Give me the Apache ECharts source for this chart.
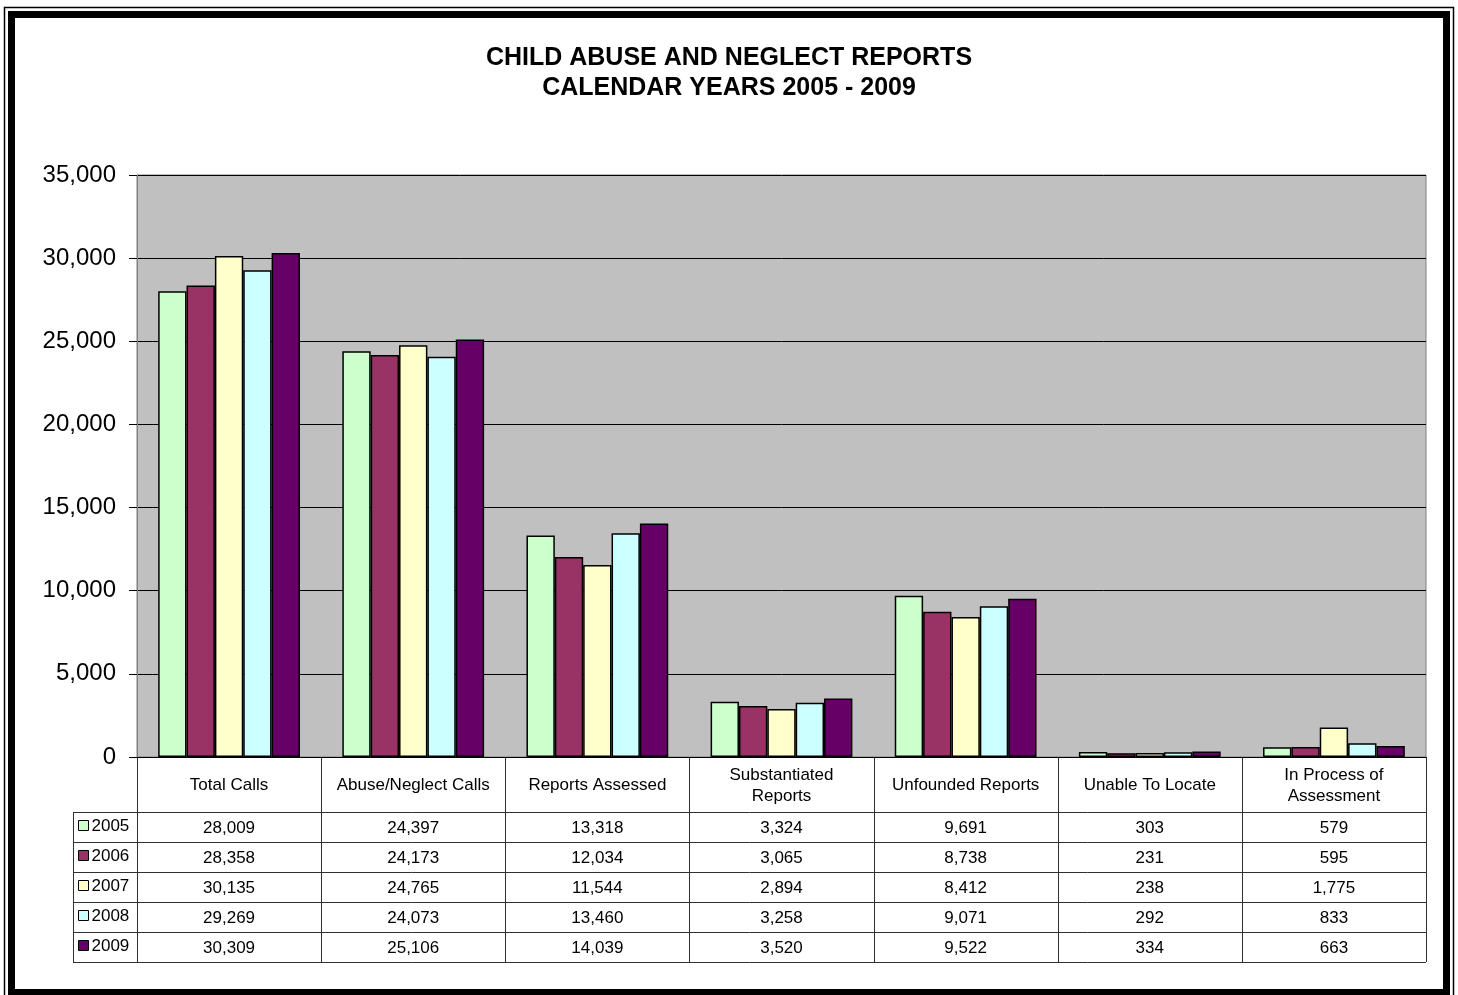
<!DOCTYPE html>
<html>
<head>
<meta charset="utf-8">
<script src="https://cdn.jsdelivr.net/npm/echarts@6/dist/echarts.min.js"></script>
<style>
html,body{margin:0;padding:0;background:#fff;}
#main{width:1458px;height:995px;}
</style>
</head>
<body>
<div id="main"></div>
<script>
var categories = ["Total Calls", "Abuse/Neglect Calls", "Reports Assessed", "Substantiated\nReports", "Unfounded Reports", "Unable To Locate", "In Process of\nAssessment"];
var years = ["2005", "2006", "2007", "2008", "2009"];
var v2005 = [28009, 24397, 13318, 3324, 9691, 303, 579];
var v2006 = [28358, 24173, 12034, 3065, 8738, 231, 595];
var v2007 = [30135, 24765, 11544, 2894, 8412, 238, 1775];
var v2008 = [29269, 24073, 13460, 3258, 9071, 292, 833];
var v2009 = [30309, 25106, 14039, 3520, 9522, 334, 663];
var colors = ["#CCFFCC", "#993366", "#FFFFCC", "#CCFFFF", "#660066"];
var yTicks = [0, 5000, 10000, 15000, 20000, 25000, 30000, 35000];

var seriesValues = [v2005, v2006, v2007, v2008, v2009];
var FONT = "'Liberation Sans', Arial, sans-serif";

var W = 1458, H = 995;
var gLeft = 137, gTop = 175, gRight = 1426, gBottom = 757;
var headerH = 55, rowH = 30, legendLeft = 73;

function fmt(n){ return n.toString().replace(/\B(?=(\d{3})+(?!\d))/g, ","); }

var graphics = [];
// outer frame
graphics.push({type:'rect', shape:{x:4.5,y:7.5,width:1449,height:995}, style:{fill:'none',stroke:'#000',lineWidth:1.5}, silent:true});
graphics.push({type:'rect', shape:{x:11.5,y:14.5,width:1435,height:978}, style:{fill:'none',stroke:'#000',lineWidth:7}, silent:true});

var colW = (gRight - gLeft) / categories.length;
var tableBottom = gBottom + headerH + rowH * years.length;
var lineStyle = {stroke:'#303030', lineWidth:1};
function line(x1,y1,x2,y2){ graphics.push({type:'line', shape:{x1:x1,y1:y1,x2:x2,y2:y2}, style:lineStyle, silent:true}); }

for (var i = 0; i <= categories.length; i++) {
  var x = Math.round(gLeft + i*colW) + 0.5;
  line(x, gBottom, x, tableBottom);
}
line(legendLeft + 0.5, gBottom + headerH, legendLeft + 0.5, tableBottom);
for (var r = 0; r <= years.length; r++) {
  var y = gBottom + headerH + r*rowH + 0.5;
  line(legendLeft, y, gRight, y);
}
for (var c = 0; c < categories.length; c++) {
  graphics.push({type:'text', silent:true, style:{text:categories[c], x:gLeft + (c+0.5)*colW, y:gBottom + headerH/2 + 1, align:'center', verticalAlign:'middle', fontSize:17, lineHeight:21, fontFamily:FONT, fill:'#000'}});
}
for (var r = 0; r < years.length; r++) {
  var cy = gBottom + headerH + r*rowH + rowH/2;
  graphics.push({type:'rect', silent:true, shape:{x:78.5,y:cy-6.5,width:10,height:10}, style:{fill:colors[r], stroke:'#000', lineWidth:1}});
  graphics.push({type:'text', silent:true, style:{text:years[r], x:91.5, y:cy-1, align:'left', verticalAlign:'middle', fontSize:17, fontFamily:FONT, fill:'#000'}});
  for (var c = 0; c < categories.length; c++) {
    graphics.push({type:'text', silent:true, style:{text:fmt(seriesValues[r][c]), x:gLeft + (c+0.5)*colW, y:cy+1, align:'center', verticalAlign:'middle', fontSize:17, fontFamily:FONT, fill:'#000'}});
  }
}

var series = years.map(function(yr, i){
  return {
    name: yr, type:'bar', data: seriesValues[i],
    barGap: '0%', barCategoryGap: '23%',
    itemStyle: {color: colors[i], borderColor:'#000', borderWidth:1.5},
    silent: true
  };
});

var chart = echarts.init(document.getElementById('main'), null, {renderer:'canvas'});
chart.setOption({
  animation: false,
  backgroundColor: '#fff',
  title: {
    text: 'CHILD ABUSE AND NEGLECT REPORTS\nCALENDAR YEARS 2005 - 2009',
    left: 'center', top: 38,
    textStyle: {fontFamily: FONT, fontSize: 25, fontWeight: 'bold', color:'#000', lineHeight: 30}
  },
  grid: {left: gLeft, top: gTop, right: W - gRight, bottom: H - gBottom, show: true, backgroundColor:'#C0C0C0', borderColor:'#808080', borderWidth:1},
  xAxis: {
    type:'category', data: categories,
    axisLabel:{show:false}, axisTick:{show:false},
    axisLine:{show:true, lineStyle:{color:'#000', width:1}}
  },
  yAxis: {
    type:'value', min: yTicks[0], max: yTicks[yTicks.length-1], interval: 5000,
    axisLabel:{formatter:function(v){return fmt(v);}, fontFamily:FONT, fontSize:24, color:'#000', margin:21},
    axisTick:{show:true, length:8, lineStyle:{color:'#000'}},
    axisLine:{show:true, lineStyle:{color:'#808080'}},
    splitLine:{show:true, lineStyle:{color:'#000', width:1}}
  },
  series: series,
  graphic: graphics
});
</script>
</body>
</html>
